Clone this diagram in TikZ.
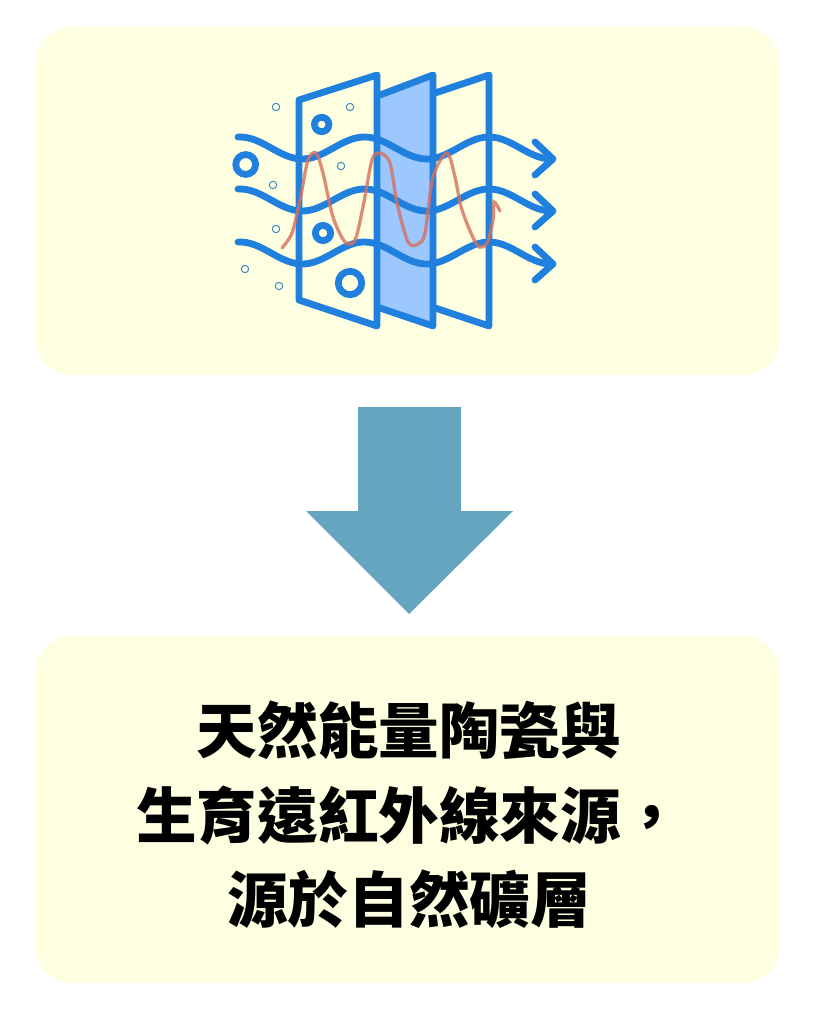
\documentclass[tikz,border=0pt]{standalone}
\usepackage{fontspec}
\newfontfamily\cjk{Noto Sans CJK TC}
\definecolor{panelyellow}{HTML}{FEFEE0}
\definecolor{arrowblue}{HTML}{66A5BF}
\definecolor{filterblue}{HTML}{1F80DE}
\definecolor{glassblue}{HTML}{9CC7FF}
\definecolor{dotblue}{HTML}{3F8CC4}
\definecolor{heatred}{HTML}{D5705F}
\tikzset{
  panelbox/.style={fill=panelyellow, rounded corners=35pt},
  filterline/.style={filterblue, line width=6.8pt, line join=round, line cap=round},
  ring/.style={filterblue, line width=6.8pt},
  dotring/.style={dotblue, line width=1pt}
}

\begin{document}
\begin{tikzpicture}[x=1pt, y=-1pt]
  \useasboundingbox (0, 0) rectangle (819, 1024);

  % Draw the two panels
  \fill[panelbox] (36, 27) rectangle (779, 375);
  \fill[panelbox] (36, 636) rectangle (779, 983);

  % Draw the big arrow
  \fill[arrowblue] (358, 407) -- (461, 407) -- (461, 511) -- (513, 511)
    -- (409, 614) -- (306, 511) -- (358, 511) -- cycle;

  % Draw the filter sheets, back to front
  \draw[filterline] (435, 93) -- (489, 75) -- (489, 326) -- (435, 308);
  \draw[filterline, fill=glassblue] (380, 95) -- (433, 75) -- (433, 326) -- (380, 308);
  \draw[filterline] (299, 100) -- (377, 75) -- (377, 326) -- (299, 300) -- cycle;

  % Waves going through the sheets
  \foreach \yc in {148, 200, 253} {
    \draw[filterline, samples=80, smooth, domain=238:551, variable=\x]
      plot ({\x}, {\yc - 11*cos((\x-240)/124.5*360)});
    \draw[filterline] (535, \yc - 6) -- (553, \yc + 11) -- (535, \yc + 27);
  }

  % Particles, big and small
  \draw[ring] (245.7, 164.5) circle (9.9);
  \draw[ring] (321.7, 124.5) circle (7.2);
  \draw[ring] (323, 233) circle (7.6);
  \draw[ring] (350, 283) circle (11.7);
  \foreach \px/\py in {276/107, 350/107, 341/166, 273/185, 276/229, 245/269, 279/286} {
    \draw[dotring] (\px, \py) circle (3.7);
  }

  % Hand drawn heat curve
  \draw[heatred, line width=3.3pt, opacity=.8, smooth, line cap=round] plot coordinates {
    (282, 248) (292, 233) (300, 200) (308, 160) (316, 153) (323, 173) (333, 217)
    (345, 242) (355, 240) (363, 207) (372, 160) (380, 153) (390, 163) (397, 203)
    (408, 242) (418, 244) (425, 233) (433, 177) (447, 153) (455, 177) (462, 210)
    (477, 245) (487, 243) (493, 220) (494, 202) (500, 211)};

  % Caption
  \node[font=\cjk\bfseries\fontsize{60.6}{84.5}\selectfont, align=center, text=black]
    (caption) at (409, 815) {天然能量陶瓷與\\生育遠紅外線來源，\\源於自然礦層};
\end{tikzpicture}
\end{document}
